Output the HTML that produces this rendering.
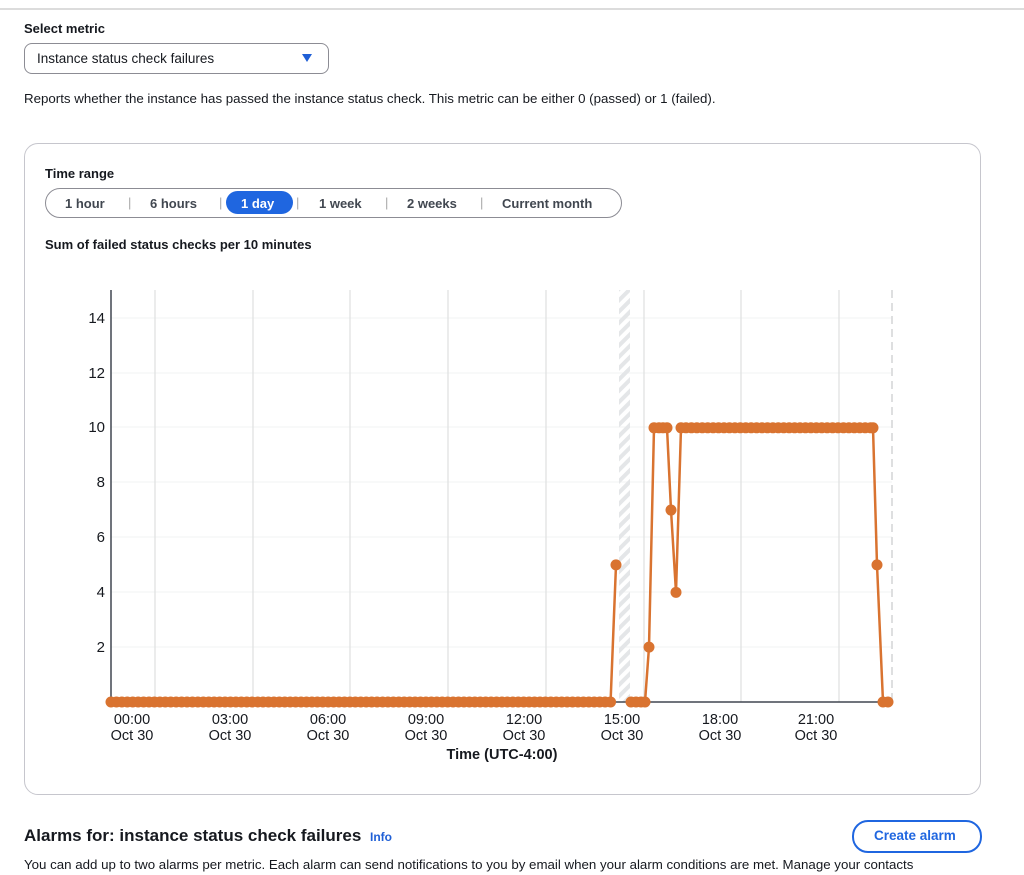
<!DOCTYPE html>
<html><head><meta charset="utf-8"><style>
body{margin:0;width:1024px;height:875px;overflow:hidden;background:#fff;font-family:"Liberation Sans",sans-serif;color:#16191f;position:relative}
.a{position:absolute;white-space:nowrap}
</style></head><body>
<div class="a" style="left:0;top:8px;width:1024px;height:2px;background:#dcdcdc"></div>
<div class="a" style="left:24px;top:21px;font-size:13px;font-weight:bold">Select metric</div>
<div class="a" style="left:24px;top:43px;width:303px;height:29px;border:1px solid #8c8c94;border-radius:8px"></div>
<div class="a" style="left:37px;top:51px;font-size:13.5px">Instance status check failures</div>
<div class="a" style="left:302px;top:54px;width:0;height:0;border-left:5px solid transparent;border-right:5px solid transparent;border-top:8px solid #1f5fd6"></div>
<div class="a" style="left:24px;top:91px;font-size:13.3px">Reports whether the instance has passed the instance status check. This metric can be either 0 (passed) or 1 (failed).</div>
<div class="a" style="left:24px;top:143px;width:955px;height:650px;border:1px solid #c6c6cd;border-radius:14px"></div>
<div class="a" style="left:45px;top:166px;font-size:13px;font-weight:bold">Time range</div>
<div class="a" style="left:45px;top:188px;width:575px;height:28px;border:1px solid #8c8c94;border-radius:15px"></div>
<div class="a" style="left:226px;top:191px;width:67px;height:23px;background:#1f66e0;border-radius:12px"></div>
<div class="a" style="left:65px;top:196px;font-size:13px;font-weight:bold;color:#414750">1 hour</div>
<div class="a" style="left:128px;top:195px;font-size:13px;color:#aaa">|</div>
<div class="a" style="left:150px;top:196px;font-size:13px;font-weight:bold;color:#414750">6 hours</div>
<div class="a" style="left:219px;top:195px;font-size:13px;color:#aaa">|</div>
<div class="a" style="left:241px;top:196px;font-size:13px;font-weight:bold;color:#fff">1 day</div>
<div class="a" style="left:296px;top:195px;font-size:13px;color:#aaa">|</div>
<div class="a" style="left:319px;top:196px;font-size:13px;font-weight:bold;color:#414750">1 week</div>
<div class="a" style="left:385px;top:195px;font-size:13px;color:#aaa">|</div>
<div class="a" style="left:407px;top:196px;font-size:13px;font-weight:bold;color:#414750">2 weeks</div>
<div class="a" style="left:480px;top:195px;font-size:13px;color:#aaa">|</div>
<div class="a" style="left:502px;top:196px;font-size:13px;font-weight:bold;color:#414750">Current month</div>
<div class="a" style="left:45px;top:237px;font-size:13px;font-weight:bold">Sum of failed status checks per 10 minutes</div>
<svg class="a" style="left:0;top:0" width="1024" height="875" id="s">
<defs><pattern id="h" width="8" height="8" patternUnits="userSpaceOnUse" patternTransform="rotate(-45)"><rect width="8" height="4" fill="#e4e6e8"/></pattern></defs>
<g stroke="#f2f3f3" stroke-width="1">
<line x1="111" x2="892" y1="318" y2="318"/><line x1="111" x2="892" y1="373" y2="373"/><line x1="111" x2="892" y1="427" y2="427"/><line x1="111" x2="892" y1="482" y2="482"/><line x1="111" x2="892" y1="537" y2="537"/><line x1="111" x2="892" y1="592" y2="592"/><line x1="111" x2="892" y1="647" y2="647"/></g>
<g stroke="#dedfe0" stroke-width="1.2">
<line x1="155" x2="155" y1="290" y2="702"/><line x1="253" x2="253" y1="290" y2="702"/><line x1="350" x2="350" y1="290" y2="702"/><line x1="448" x2="448" y1="290" y2="702"/><line x1="546" x2="546" y1="290" y2="702"/><line x1="644" x2="644" y1="290" y2="702"/><line x1="741" x2="741" y1="290" y2="702"/><line x1="839" x2="839" y1="290" y2="702"/></g>
<rect x="619" y="290" width="11" height="412" fill="url(#h)"/>
<line x1="892" x2="892" y1="290" y2="702" stroke="#dedfe0" stroke-width="2" stroke-dasharray="8 5"/>
<line x1="111" x2="111" y1="290" y2="702" stroke="#414750" stroke-width="1.5"/>
<line x1="111" x2="892" y1="702" y2="702" stroke="#414750" stroke-width="1.5"/>
<g font-size="15" fill="#16191f" text-anchor="end">
<text x="105" y="323">14</text><text x="105" y="378">12</text><text x="105" y="432">10</text><text x="105" y="487">8</text><text x="105" y="542">6</text><text x="105" y="597">4</text><text x="105" y="652">2</text></g>
<g font-size="14.5" fill="#16191f" text-anchor="middle">
<text x="132" y="724">00:00</text><text x="132" y="740">Oct 30</text>
<text x="230" y="724">03:00</text><text x="230" y="740">Oct 30</text>
<text x="328" y="724">06:00</text><text x="328" y="740">Oct 30</text>
<text x="426" y="724">09:00</text><text x="426" y="740">Oct 30</text>
<text x="524" y="724">12:00</text><text x="524" y="740">Oct 30</text>
<text x="622" y="724">15:00</text><text x="622" y="740">Oct 30</text>
<text x="720" y="724">18:00</text><text x="720" y="740">Oct 30</text>
<text x="816" y="724">21:00</text><text x="816" y="740">Oct 30</text>
<text x="502" y="759" font-weight="bold">Time (UTC-4:00)</text></g>
<g id="d" fill="#d97330" stroke="#d97330"></g>
</svg>
<div class="a" style="left:24px;top:826px;font-size:17px;font-weight:bold">Alarms for: instance status check failures</div>
<div class="a" style="left:370px;top:830px;font-size:12px;font-weight:bold;color:#1f5fd6">Info</div>
<div class="a" style="left:852px;top:820px;width:126px;height:29px;border:2px solid #1f66e0;border-radius:16px"></div>
<div class="a" style="left:874px;top:828px;font-size:13.5px;font-weight:bold;color:#1f66e0">Create alarm</div>
<div class="a" style="left:24px;top:857px;font-size:13.3px">You can add up to two alarms per metric. Each alarm can send notifications to you by email when your alarm conditions are met. Manage your contacts</div>
<script>
var Y=function(v){return 702-v*27.42};
var a=[];for(var x=111;x<=612;x+=5.43)a.push([x,0]);
a.push([616,5]);
var b=[[631,0],[636,0],[641,0],[645,0],[649,2],[654,10],[659,10],[663,10],[667,10],[671,7],[676,4],[681,10]];
for(var x=686;x<=872;x+=5.43)b.push([x,10]);
b.push([873,10],[877,5],[883,0],[888,0]);
var g=document.getElementById('d');var ns='http://www.w3.org/2000/svg';
function pl(arr){var p=document.createElementNS(ns,'polyline');p.setAttribute('points',arr.map(function(q){return q[0]+','+Y(q[1])}).join(' '));p.setAttribute('fill','none');p.setAttribute('stroke-width','2.5');g.appendChild(p);
arr.forEach(function(q){var c=document.createElementNS(ns,'circle');c.setAttribute('cx',q[0]);c.setAttribute('cy',Y(q[1]));c.setAttribute('r','5.5');c.setAttribute('stroke','none');g.appendChild(c);});}
pl(a);pl(b);
</script>
</body></html>
